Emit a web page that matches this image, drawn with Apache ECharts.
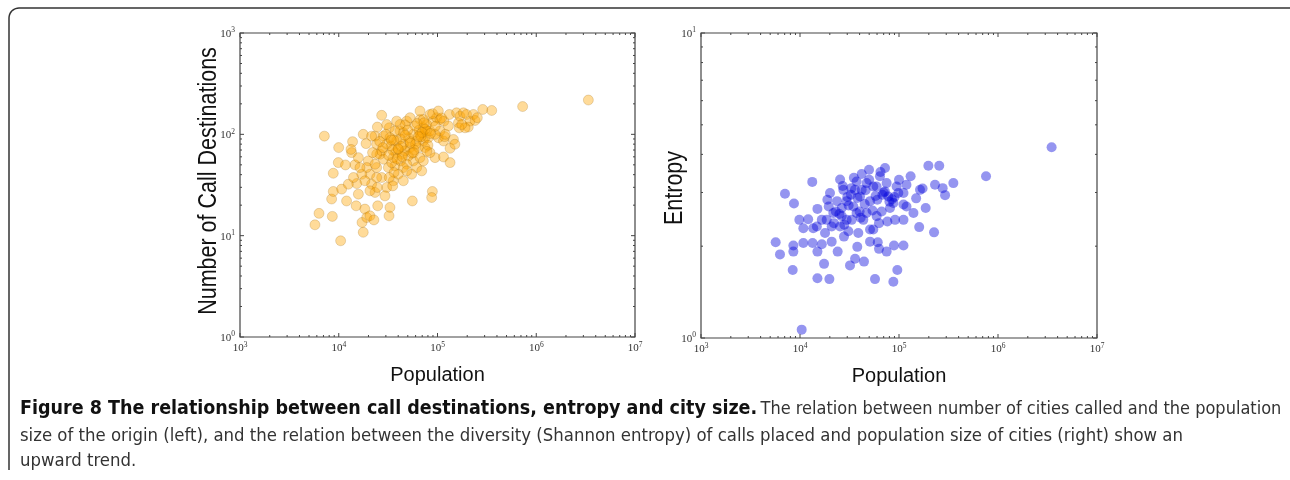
<!DOCTYPE html>
<html>
<head>
<meta charset="utf-8">
<script src="https://cdn.jsdelivr.net/npm/echarts@6/dist/echarts.min.js"></script>
<style>
html,body{margin:0;padding:0;background:#fff;}
#chart{width:1290px;height:480px;}
</style>
</head>
<body>
<div id="chart"></div>
<script>
// ---- Data ----
const leftPopulation = [3370000,728000,354000,287000,7150,5740,6310,10450,8610,8470,8800,8800,9900,9980,11700,10700,12000,13500,13800,13300,14600,15200,15000,12500,17200,17700,18400,15800,19200,20700,22700,19900,18900,20700,21500,23300,24800,24200,27200,26200,27200,30600,29400,32300,33000,32500,23300,24200,35700,37100,33800,37700,41700,44300,42400,48800,47000,52700,55600,50700,52700,56900,61500,54700,66500,71900,69200,74700,77600,83900,90700,88700,87300,94400,98100,106000,102000,115000,115000,116000,129000,134000,132000,118000,134000,145000,150000,156000,163000,169000,166000,183000,197000,213000,205000,231000,240000,253000,190000,176000,89300,102000,17700,21500,24600,28300,30600,27200,28300,31800,35700,38600,40100,45100,46900,50700,48800,45100,40100,35200,36300,56900,61500,63900,66500,71900,74700,77600,80700,83900,71900,66500,59200,45100,41700,37100,33000,24200,22000,19200,17100,18400,24600,20700,16400,15800,48800,106000,94400,83900,30600,71900,66500,38600,52600,34400,32500,24200,23300,14100,45100,60000,42000,55000,65000,35000,80000,95000,110000,120000,30000,26000,50000,36000,43000,58000,68000,75000,32000,39000,47000,53000,62000,70000,78000,85000,28000,34000,44000,57000,64000,73000,40000];
const leftDestinations = [218,188,172,176,96,12.8,16.6,8.9,15.5,23,27.3,41.3,52.6,74,49.9,28.8,22,66,84.7,71,50,32.7,19.7,32.2,13.5,10.8,18.3,25.7,15.1,15.7,14.3,54.7,81,40.4,32.2,26.7,19.7,47,154,63.6,37.5,29.9,24.7,15.7,19,116,96,79.8,34.8,48.8,76.8,66,108,63.6,54.7,135,124,146,22,92.7,74,54.7,47,40.4,140,116,43.6,92.7,108,157,135,27.3,23.8,58.9,146,140,92.7,86,59.8,135,121,52.6,157,95,72.8,89,79.8,163,130,151,116,163,157,135,118,157,137,146,116,125,160,170,100,96,118,96,80,68.6,56.8,47,58.9,86,71,80,68.6,61.2,50.7,47,40.4,31,42,100,86,74,58.9,86,74,125,92.7,66,54.7,100,121,104,125,108,92.7,63.6,66,47,40.4,34.8,29.9,27.7,47,58.9,43.6,108,100,108,125,140,170,135,85,52.6,37.5,37.5,50.7,37.5,34.8,80,90,65,110,70,78,120,145,100,100,85,110,88,76,70,95,112,62,57,98,82,128,104,68,102,74,88,60,66,95,130,72];

const rightPopulation = [3480000,757000,354000,255000,198000,231000,276000,292000,226000,160000,186000,173000,131000,10400,5680,6280,8440,8570,8570,7050,8690,15000,19800,17500,32000,36000,44300,57200,87700,96200,75000,111000,89000,61000,51000,37900,24000,15000,13400,10800,9850,10800,12100,13600,15000,13300,16600,20900,17900,20900,18600,21700,20100,18900,25400,27400,26400,29600,34600,33300,30800,38800,37300,37300,42000,40400,43600,47100,51000,49800,55000,60400,64200,72200,75000,78000,81100,76300,91200,111000,111000,98400,119000,140000,149000,163000,51000,62800,27800,14800,16600,25400,26400,29600,35900,32700,59400,66800,87700,94600,111000,59400,47100,62800,23700,55000,119000,30000,45000,70000,85000,40000,23000,50000,65000,100000,27000,35000,42000,22000,25000,31000,38000,46000,54000,68000,80000,33000,41000,58000,72000,28000,19500,90000];
const rightEntropy = [4.22,3.39,3.22,3.67,3.67,3.18,3.10,2.94,2.22,2.31,2.67,3.09,3.39,1.065,2.06,1.88,1.67,1.92,2.01,2.97,2.76,1.57,1.56,1.75,1.73,1.82,1.78,1.56,1.53,1.67,1.92,2.01,2.01,2.06,2.27,1.99,1.92,1.92,2.05,2.05,2.44,2.29,2.45,2.29,2.65,3.25,2.03,2.07,2.21,2.32,2.44,2.57,2.99,2.84,3.31,3.06,2.67,2.81,2.70,2.44,2.24,2.21,2.57,3.26,3.06,2.91,2.44,2.57,2.81,3.56,3.14,2.84,3.39,3.61,3.22,2.91,2.67,2.41,2.44,2.44,2.74,2.99,3.18,2.57,2.87,3.06,2.07,1.96,2.15,2.32,2.44,2.32,2.51,2.44,3.06,2.95,2.51,2.60,2.77,3.14,2.99,3.14,3.22,2.38,2.81,2.27,2.70,2.9,2.75,3.0,2.85,2.6,2.6,3.3,3.5,3.3,3.15,3.35,3.45,2.38,2.55,2.72,2.88,3.05,2.62,2.95,2.80,3.10,2.48,2.92,3.02,2.35,2.70,2.90];

const xTickValues = [1e3, 1e4, 1e5, 1e6, 1e7];
const leftYTickValues = [1, 10, 100, 1000];
const rightYTickValues = [1, 10];

const xTitle = 'Population';
const leftYTitle = 'Number of Call Destinations';
const rightYTitle = 'Entropy';
const captionBold = 'Figure 8 The relationship between call destinations, entropy and city size.';
const captionLine1 = 'The relation between number of cities called and the population';
const captionLine2 = 'size of the origin (left), and the relation between the diversity (Shannon entropy) of calls placed and population size of cities (right) show an';
const captionLine3 = 'upward trend.';

// ---- helpers ----
function minorValues(ticks) {
  const out = [];
  for (let i = 0; i < ticks.length - 1; i++) {
    for (let k = 2; k <= 9; k++) out.push(ticks[i] * k);
  }
  return out;
}
const tickColor = '#444';
const capFont = 'Liberation Sans Narrow, DejaVu Sans Condensed, Liberation Sans';
const labelRich = {
  b: {fontFamily: 'Liberation Serif', fontSize: 11, color: '#333', lineHeight: 13, verticalAlign: 'bottom'},
  s: {fontFamily: 'Liberation Serif', fontSize: 7.5, color: '#333', lineHeight: 13, verticalAlign: 'top'}
};
function powLabel(v) {
  const e = Math.round(Math.log10(v));
  return '{b|10}{s|' + e + '}';
}
function tickSeries(gridIdx, xTicks, yTicks) {
  const xMinor = minorValues(xTicks);
  const yMinor = minorValues(yTicks);
  const xMin = xTicks[0], xMax = xTicks[xTicks.length - 1];
  const yMin = yTicks[0], yMax = yTicks[yTicks.length - 1];
  return {
    type: 'custom', coordinateSystem: 'cartesian2d', xAxisIndex: gridIdx, yAxisIndex: gridIdx, silent: true, z: 5,
    data: [[xMin, yMin]],
    renderItem: function (params, api) {
      const ch = [];
      const st = {stroke: tickColor, lineWidth: 1};
      function vx(v, len) {
        const b = api.coord([v, yMin]), t = api.coord([v, yMax]);
        ch.push({type: 'line', shape: {x1: b[0], y1: b[1], x2: b[0], y2: b[1] - len}, style: st});
        ch.push({type: 'line', shape: {x1: t[0], y1: t[1], x2: t[0], y2: t[1] + len}, style: st});
      }
      function hy(v, len) {
        const l = api.coord([xMin, v]), r = api.coord([xMax, v]);
        ch.push({type: 'line', shape: {x1: l[0], y1: l[1], x2: l[0] + len, y2: l[1]}, style: st});
        ch.push({type: 'line', shape: {x1: r[0], y1: r[1], x2: r[0] - len, y2: r[1]}, style: st});
      }
      xTicks.forEach(v => vx(v, 4));
      xMinor.forEach(v => vx(v, 2));
      yTicks.forEach(v => hy(v, 4));
      yMinor.forEach(v => hy(v, 2));
      return {type: 'group', children: ch};
    }
  };
}
function xAxisFor(gridIdx) {
  return {
    type: 'log', logBase: 10, gridIndex: gridIdx, min: 1e3, max: 1e7, splitNumber: 4,
    axisLine: {show: false}, axisTick: {show: false}, splitLine: {show: false},
    axisLabel: {formatter: powLabel, rich: labelRich, margin: 4, showMinLabel: true, showMaxLabel: true},
    name: xTitle, nameLocation: 'middle', nameGap: 28,
    nameTextStyle: {fontFamily: 'Liberation Sans', fontSize: 20, color: '#111'}
  };
}
function yAxisFor(gridIdx, min, max, split) {
  return {
    type: 'log', logBase: 10, gridIndex: gridIdx, min: min, max: max, splitNumber: split,
    axisLine: {show: false}, axisTick: {show: false}, splitLine: {show: false},
    axisLabel: {formatter: powLabel, rich: labelRich, margin: 5, showMinLabel: true, showMaxLabel: true}
  };
}
function yTitleGraphic(text, cx, cy) {
  return {
    type: 'text', x: cx, y: cy, rotation: Math.PI / 2, scaleX: 0.86, scaleY: 1,
    style: {text: text, fontFamily: 'Liberation Sans', fontSize: 25, fill: '#111', align: 'center', verticalAlign: 'middle'}
  };
}
// rounded frame corner points
const framePts = [[9, 470]];
for (let a = 180; a <= 270; a += 10) {
  const r = a * Math.PI / 180;
  framePts.push([19 + 10 * Math.cos(r), 18 + 10 * Math.sin(r)]);
}
framePts.push([1290, 8]);

const chart = echarts.init(document.getElementById('chart'), null, {renderer: 'canvas'});
const option = {
  animation: false,
  backgroundColor: '#fff',
  grid: [
    {left: 240, top: 33, width: 395, height: 304, show: true, borderColor: '#444', borderWidth: 1.2, backgroundColor: 'transparent'},
    {left: 701, top: 33, width: 396, height: 305, show: true, borderColor: '#444', borderWidth: 1.2, backgroundColor: 'transparent'}
  ],
  xAxis: [xAxisFor(0), xAxisFor(1)],
  yAxis: [yAxisFor(0, 1, 1000, 3), yAxisFor(1, 1, 10, 1)],
  series: [
    {
      type: 'scatter', xAxisIndex: 0, yAxisIndex: 0, symbolSize: 10,
      data: leftPopulation.map((p, i) => [p, leftDestinations[i]]),
      itemStyle: {color: 'rgba(255,165,0,0.5)', borderColor: 'rgba(140,90,0,0.45)', borderWidth: 0.6}
    },
    {
      type: 'scatter', xAxisIndex: 1, yAxisIndex: 1, symbolSize: 10,
      data: rightPopulation.map((p, i) => [p, rightEntropy[i]]),
      itemStyle: {color: 'rgba(0,0,220,0.52)', borderWidth: 0}
    },
    tickSeries(0, xTickValues, leftYTickValues),
    tickSeries(1, xTickValues, rightYTickValues)
  ],
  graphic: [
    {type: 'polyline', shape: {points: framePts}, style: {fill: null, stroke: '#333', lineWidth: 1.5}},
    yTitleGraphic(leftYTitle, 209, 181),
    yTitleGraphic(rightYTitle, 675, 188),
    {type: 'text', left: 20, top: 399, style: {
      text: '{b|' + captionBold + '} {n|' + captionLine1 + '}',
      rich: {
        b: {fontFamily: capFont, fontWeight: 'bold', fontSize: 19.5, fill: '#111'},
        n: {fontFamily: capFont, fontSize: 18, fill: '#333'}
      }}},
    {type: 'text', left: 20, top: 427, style: {text: captionLine2, fontFamily: capFont, fontSize: 18.4, fill: '#333'}},
    {type: 'text', left: 20, top: 452, style: {text: captionLine3, fontFamily: capFont, fontSize: 18.4, fill: '#333'}}
  ]
};
chart.setOption(option);
</script>
</body>
</html>
